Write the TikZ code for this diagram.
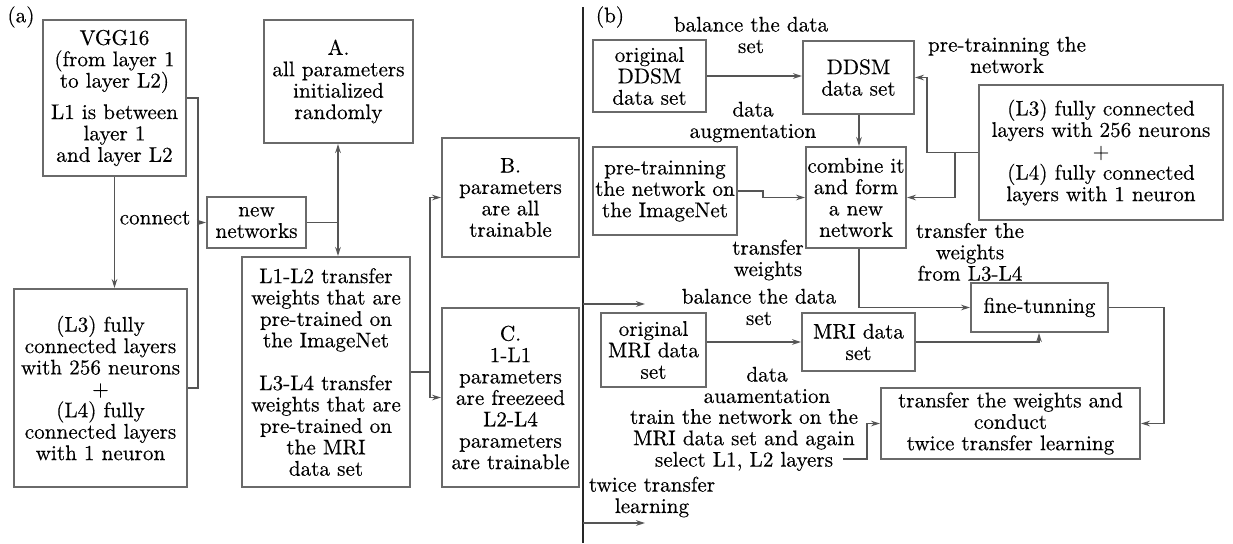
\documentclass[tikz,border=0pt]{standalone}
\usepackage{fontspec}
\setmainfont{Latin Modern Roman}[FakeBold=0.35]
\usetikzlibrary{arrows.meta}
\definecolor{boxgray}{HTML}{6A6A6A}
\definecolor{linegray}{HTML}{555555}

\begin{document}
\begin{tikzpicture}[x=0.5pt,y=-0.5pt,
  every node/.style={font=\fontsize{10.6}{10.7}\selectfont, text=black},
  % box spanning the corners (#1,#2) and (#3,#4)
  bx/.style n args={4}{draw=boxgray, line width=1pt, inner sep=0pt, align=center,
    minimum width={(#3-#1)*0.5pt}, minimum height={(#4-#2)*0.5pt},
    at={({(#1+#3)/2},{(#2+#4)/2})}},
  lbl/.style={align=center, inner sep=0pt},
  conn/.style={draw=linegray, line width=0.8pt},
  arr/.style={conn, -{Stealth[length=4.5pt,width=2.8pt]}},
]
\useasboundingbox (0,0) rectangle (1233,543);

% ---------- panel (a) ----------
\node[lbl] (la) at (21,17) {(a)};
\node[bx={43}{20}{186}{176}] (vgg)
  {VGG16\\(from layer 1\\to layer L2)\\[5pt]L1 is between\\layer 1\\and layer L2};
\node[bx={14}{289}{187}{487}] (fca)
  {(L3) fully\\connected layers\\with 256 neurons\\+\\(L4) fully\\connected layers\\with 1 neuron};
\node[bx={207}{197}{306}{248}] (newnet) {new\\networks};
\node[bx={264}{20}{413}{143}] (A)
  {A.\\all parameters\\initialized\\randomly};
\node[bx={242}{257}{410}{487}] (L12)
  {L1-L2 transfer\\weights that are\\pre-trained on\\the ImageNet\\[10.7pt]L3-L4 transfer\\weights that are\\pre-trained on\\the MRI\\data set};
\node[bx={442}{138}{579}{257}] (B)
  {B.\\parameters\\are all\\trainable};
\node[bx={442}{308}{579}{487}] (C)
  {C.\\1-L1\\parameters\\are freezeed\\L2-L4\\parameters\\are trainable};
\node[lbl] (lconnect) at (155,218) {connect};

\draw[arr] (vgg.south) -- (vgg.south |- fca.north);
\coordinate (jtop) at (198,98);
\coordinate (jbot) at (198,388);
\draw[conn] (vgg.east) -- (jtop) -- (jbot) -- (fca.east);
\draw[arr] (jtop |- newnet.west) -- (newnet.west);
\coordinate (jn) at (338,222.5);
\draw[conn] (newnet.east) -- (jn);
\draw[arr] (jn) -- (jn |- A.south);
\draw[arr] (jn) -- (jn |- L12.north);
\coordinate (jl) at (430,372);
\draw[conn] (L12.east |- jl) -- (jl);
\draw[arr] (jl) |- (B.west);
\draw[arr] (jl) |- (C.west);

% ---------- divider ----------
\coordinate (dtop) at (583,7);
\coordinate (dbot) at (583,543);
\draw[line width=1.4pt, draw=black!85] (dtop) -- (dbot);

% ---------- panel (b) ----------
\node[lbl] (lb) at (610,17) {(b)};
\node[bx={593}{40}{706}{112}] (oddsm) {original\\DDSM\\data set};
\node[bx={803}{41}{914}{114}] (ddsm) {DDSM\\data set};
\node[lbl] (lbal1) at (751,35) {balance the data\\set};
\draw[arr] (oddsm.east) -- (oddsm.east -| ddsm.west);

\node[bx={806}{147}{906}{248}] (comb) {combine it\\and form\\a new\\network};
\node[lbl] (laug1) at (753,122) {data\\augmentation};
\coordinate (x859) at (859,0);
\draw[arr] (ddsm.south -| x859) -- (comb.north -| x859);

\node[bx={593}{147}{737}{235}] (pre) {pre-trainning\\the network on\\the ImageNet};
\draw[arr] (pre.east) -- ++(25,0) -- ++(0,6.5) -- (comb.west);
\node[lbl] (ltw) at (768,260) {transfer\\weights};

\node[lbl] (lpt) at (1007,55) {pre-trainning the\\network};
\node[bx={979}{85}{1223}{220}] (fcb)
  {(L3) fully connected\\layers with 256 neurons\\+\\(L4) fully connected\\layers with 1 neuron};
\coordinate (jr1) at (927,152.5);
\coordinate (jr2) at (955,152.5);
\draw[conn] (fcb.west) -- (jr1);
\draw[arr] (jr1) |- (ddsm.east);
\draw[arr] (jr2) |- (comb.east);
\node[lbl] (ltw2) at (970,252) {transfer the\\weights\\from L3-L4};

\node[bx={971}{283}{1108}{332}] (fine) {fine-tunning};
\draw[arr] (comb.south -| x859) |- (fine.west);

\node[bx={881}{388}{1140}{459}] (tr)
  {transfer the weights and\\conduct\\twice transfer learning};
\coordinate (jf) at (1164,307.5);
\draw[arr] (fine.east) -- (jf) |- (tr.east);

\node[bx={601}{313}{706}{387}] (omri) {original\\MRI data\\set};
\node[bx={802}{313}{915}{371}] (mri) {MRI data\\set};
\draw[arr] (omri.east |- mri.west) -- (mri.west);
\coordinate (x1039) at (1039,0);
\draw[arr] (mri.east) -| (fine.south -| x1039);
\node[lbl] (lbal2) at (759,307) {balance the data\\set};
\node[lbl] (laug2) at (767,385) {data\\auamentation};

\node[lbl] (ltrain) at (744,440)
  {train the network on the\\MRI data set and again\\select L1, L2 layers};
\coordinate (ts) at (843,459);
\coordinate (jt) at (867,459);
\draw[arr] (ts) -- (jt) |- (tr.west);

\node[lbl] (ltwice) at (652,497) {twice transfer\\learning};
\coordinate (d1) at (583,304);
\coordinate (d1e) at (645,304);
\coordinate (d2) at (583,523);
\coordinate (d2e) at (645,523);
\draw[arr] (d1) -- (d1e);
\draw[arr] (d2) -- (d2e);
\end{tikzpicture}
\end{document}
